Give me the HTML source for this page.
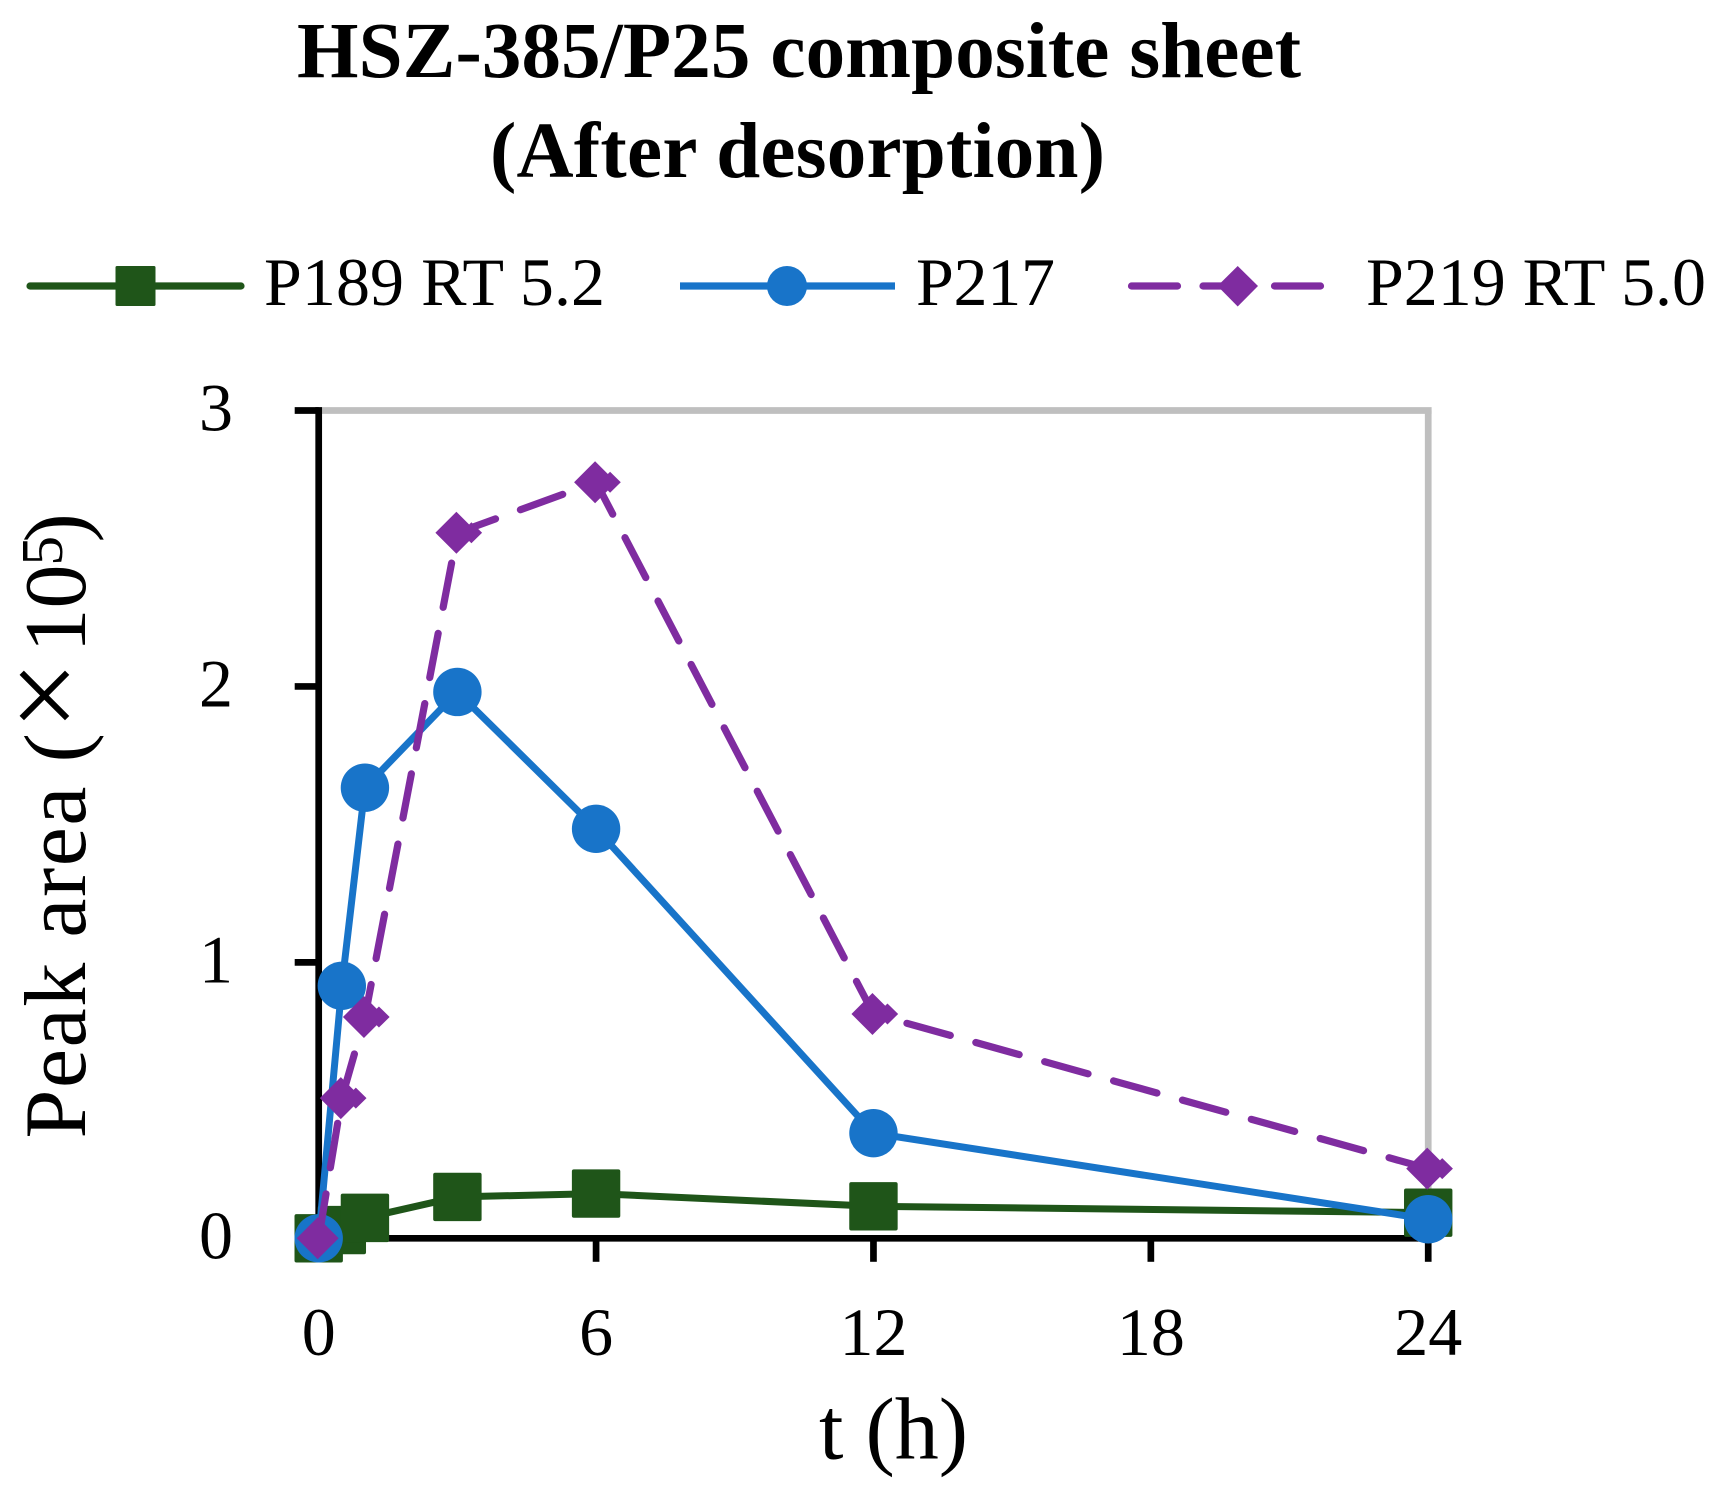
<!DOCTYPE html>
<html lang="en">
<head>
<meta charset="utf-8">
<title>HSZ-385/P25 composite sheet (After desorption)</title>
<style>
html,body{margin:0;padding:0;background:#fff;}
svg{display:block;}
text{font-family:"Liberation Serif",serif;fill:#000;}
</style>
</head>
<body>
<svg id="chart" xmlns="http://www.w3.org/2000/svg" width="1724" height="1498" viewBox="0 0 1724 1498">
  <rect x="0" y="0" width="1724" height="1498" fill="#fff"/>

  <g font-weight="700" font-size="79">
    <text x="297" y="77" textLength="1004" lengthAdjust="spacing">HSZ-385/P25 composite sheet</text>
    <text x="490" y="177" textLength="615" lengthAdjust="spacing">(After desorption)</text>
  </g>

  <g>
    <g>
      <line x1="30" x2="241" y1="286" y2="286" stroke="#1f5519" stroke-width="7.2" stroke-linecap="round"/>
      <rect x="115.5" y="266" width="40" height="40" rx="1.5" fill="#1f5519"/>
      <text x="264" y="305" font-size="68" textLength="341" lengthAdjust="spacing">P189 RT 5.2</text>
    </g>
    <g>
      <line x1="680" x2="895" y1="286" y2="286" stroke="#1874c9" stroke-width="7.2"/>
      <circle cx="787" cy="286" r="20" fill="#1874c9"/>
      <text x="916" y="305" font-size="68" textLength="139" lengthAdjust="spacing">P217</text>
    </g>
    <g>
      <line x1="1131.5" x2="1321" y1="286" y2="286" stroke="#7f2ca0" stroke-width="7.2" stroke-linecap="round" stroke-dasharray="46 25.5"/>
      <polygon points="1237.7,266 1258,286 1237.7,306.5 1217.5,286" fill="#7f2ca0"/>
      <text x="1366" y="305" font-size="68" textLength="340" lengthAdjust="spacing">P219 RT 5.0</text>
    </g>
  </g>

  <g id="axes"></g>
  <g id="series"></g>

  <g transform="translate(85,1138.5) rotate(-90)" font-size="88">
    <text x="0" y="0" textLength="352" lengthAdjust="spacing">Peak area</text>
    <text x="376" y="0">(</text>
    <text x="443" y="0" font-size="122" text-anchor="middle">×</text>
    <text x="486" y="0">10</text>
    <text x="573" y="-23" font-size="59">5</text>
    <text x="596" y="0">)</text>
  </g>
  <text x="819" y="1458.5" font-size="88">t (h)</text>
</svg>
<script>
var timeHours = [0, 0.5, 1, 3, 6, 12, 24];
var p189Values = [0, 0.03, 0.074, 0.15, 0.162, 0.116, 0.093];
var p217Values = [0, 0.915, 1.633, 1.98, 1.484, 0.381, 0.069];
var p219Values = [0, 0.508, 0.802, 2.557, 2.74, 0.813, 0.2525];
var xTickValues = [0, 6, 12, 18, 24];
var yTickValues = [0, 1, 2, 3];
var xTickLabels = ['0', '6', '12', '18', '24'];
var yTickLabels = ['0', '1', '2', '3'];

var NS = 'http://www.w3.org/2000/svg';
var X0 = 318.7, X_PER_HOUR = 46.23;
var Y0 = 1238.3, Y_PER_UNIT = 275.93;
var GREEN = '#1f5519', BLUE = '#1874c9', PURPLE = '#7f2ca0';

function xScale(t) { return X0 + t * X_PER_HOUR; }
function yScale(v) { return Y0 - v * Y_PER_UNIT; }

function make(tag, attrs, parent) {
  var el = document.createElementNS(NS, tag);
  for (var k in attrs) { el.setAttribute(k, attrs[k]); }
  parent.appendChild(el);
  return el;
}

var axes = document.getElementById('axes');
var seriesLayer = document.getElementById('series');
var xMax = xTickValues[xTickValues.length - 1];
var yMax = yTickValues[yTickValues.length - 1];

var frameTop = make('line', {x1: xScale(0), x2: xScale(xMax) + 3.4, y1: yScale(yMax), y2: yScale(yMax), stroke: '#bfbfbf', 'stroke-width': 6.7}, axes);



var frameRight = make('line', {x1: xScale(xMax), x2: xScale(xMax), y1: yScale(yMax), y2: yScale(0), stroke: '#bfbfbf', 'stroke-width': 6.7}, axes);



var xAxisLine = make('line', {x1: xScale(0) - 3.4, x2: xScale(xMax) + 3.4, y1: yScale(0), y2: yScale(0), stroke: '#000', 'stroke-width': 6.7}, axes);



var yAxisLine = make('line', {x1: xScale(0), x2: xScale(0), y1: yScale(yMax) - 3.4, y2: yScale(0) + 3.4, stroke: '#000', 'stroke-width': 6.7}, axes);



xTickValues.forEach(function (t, i) {
  var tick = make('line', {x1: xScale(t), x2: xScale(t), y1: yScale(0), y2: yScale(0) + 23.5, stroke: '#000', 'stroke-width': 6.7}, axes);
  
  
  var label = make('text', {x: xScale(t), y: 1355, 'font-size': 68, 'text-anchor': 'middle'}, axes);
  
  
  label.textContent = xTickLabels[i];
});

yTickValues.forEach(function (v, i) {
  var tick = make('line', {x1: xScale(0) - 24, x2: xScale(0), y1: yScale(v), y2: yScale(v), stroke: '#000', 'stroke-width': 6.7}, axes);
  
  
  var label = make('text', {x: 216, y: yScale(v) + 20, 'font-size': 68, 'text-anchor': 'middle'}, axes);
  
  
  label.textContent = yTickLabels[i];
});

function linePoints(values) {
  return values.map(function (v, i) {
    return xScale(timeHours[i]).toFixed(2) + ',' + yScale(v).toFixed(2);
  }).join(' ');
}

var p189Line = make('polyline', {points: linePoints(p189Values), fill: 'none', stroke: GREEN, 'stroke-width': 7, 'stroke-linejoin': 'round'}, seriesLayer);



p189Values.forEach(function (v, i) {
  var cx = xScale(timeHours[i]), cy = yScale(v);
  var m = make('rect', {x: cx - 24.2, y: cy - 24.2, width: 48.4, height: 48.4, rx: 2, fill: GREEN}, seriesLayer);
  
  
});

var p217Line = make('polyline', {points: linePoints(p217Values), fill: 'none', stroke: BLUE, 'stroke-width': 7, 'stroke-linejoin': 'round'}, seriesLayer);



p217Values.forEach(function (v, i) {
  var m = make('circle', {cx: xScale(timeHours[i]), cy: yScale(v), r: 24.2, fill: BLUE}, seriesLayer);
  
  
});

var p219Line = make('polyline', {points: linePoints(p219Values), fill: 'none', stroke: PURPLE, 'stroke-width': 7.2, 'stroke-linecap': 'round', 'stroke-linejoin': 'round', 'stroke-dasharray': '45 26.5'}, seriesLayer);



p219Values.forEach(function (v, i) {
  var cx = xScale(timeHours[i]), cy = yScale(v);
  var m = make('path', {fill: PURPLE, d:
    'M' + (cx - 22) + ' ' + cy + 'L' + (cx - 1) + ' ' + (cy - 21) + 'L' + (cx + 20) + ' ' + cy + 'L' + (cx - 1) + ' ' + (cy + 21) + 'Z' +
    (i > 0 ? 'M' + (cx + 3.5) + ' ' + cy + 'L' + (cx + 14) + ' ' + (cy - 10.5) + 'L' + (cx + 24.7) + ' ' + cy + 'L' + (cx + 14) + ' ' + (cy + 10.5) + 'Z' : '')
  }, seriesLayer);
  
  
});
</script>
</body>
</html>
